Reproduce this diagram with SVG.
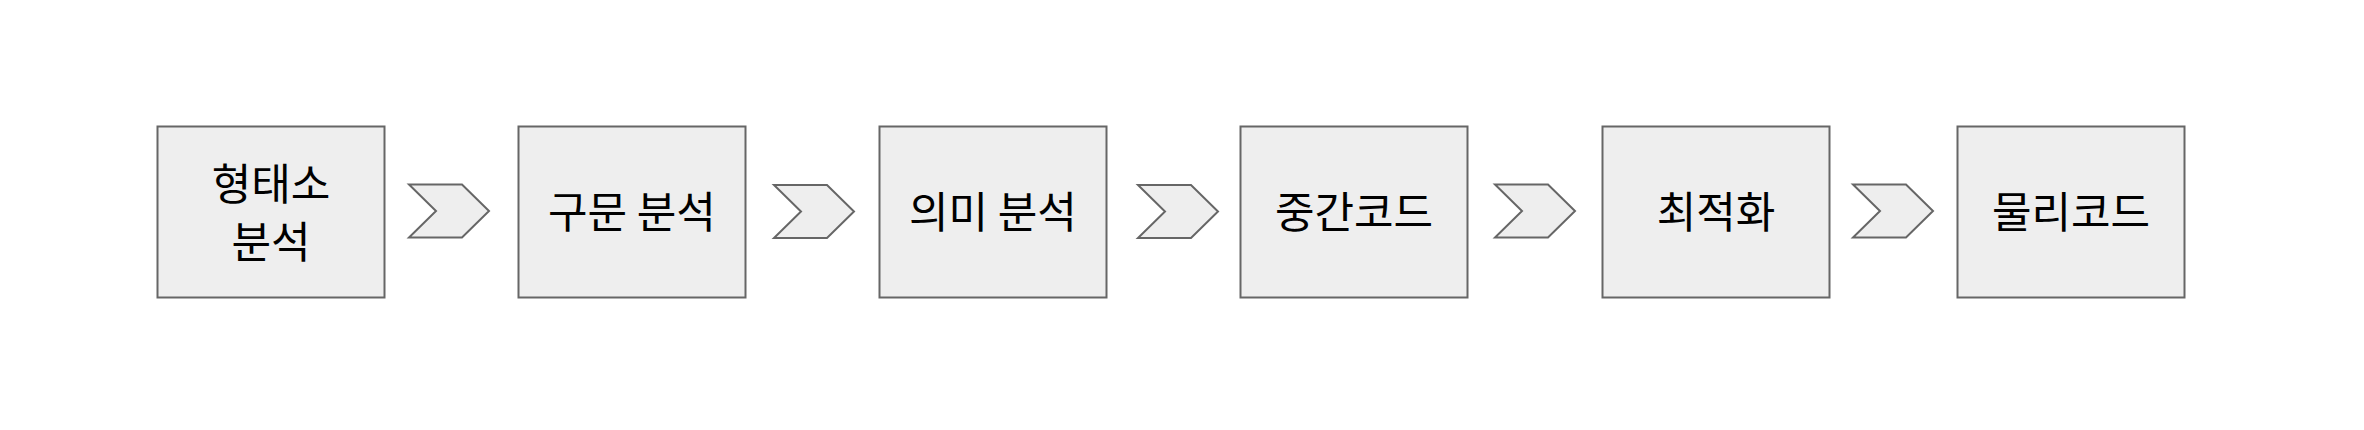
<svg xmlns="http://www.w3.org/2000/svg" width="2364" height="430" viewBox="0 0 2364 430">
<style>
.box{fill:#eeeeee;stroke:#666666;stroke-width:2}
.chev{fill:#eeeeee;stroke:#666666;stroke-width:2;stroke-linejoin:miter}
.lbl{font-family:"Noto Sans CJK KR","Noto Sans",sans-serif;font-size:43px;font-weight:400;fill:#000000;text-anchor:middle;dominant-baseline:central}
</style>
<rect width="2364" height="430" fill="#ffffff"/>
<g id="n1"><rect class="box" x="157.5" y="126.5" width="227" height="171"/><text class="lbl" x="271" y="181">형태소</text><text class="lbl" x="271" y="239">분석</text></g>
<g id="n2"><rect class="box" x="518.5" y="126.5" width="227" height="171"/><text class="lbl" x="632" y="209">구문 분석</text></g>
<g id="n3"><rect class="box" x="879.5" y="126.5" width="227" height="171"/><text class="lbl" x="993" y="209">의미 분석</text></g>
<g id="n4"><rect class="box" x="1240.5" y="126.5" width="227" height="171"/><text class="lbl" x="1354" y="209">중간코드</text></g>
<g id="n5"><rect class="box" x="1602.5" y="126.5" width="227" height="171"/><text class="lbl" x="1716" y="209">최적화</text></g>
<g id="n6"><rect class="box" x="1957.5" y="126.5" width="227" height="171"/><text class="lbl" x="2071" y="209">물리코드</text></g>
<g id="connectors">
<polygon class="chev" points="409,184.5 462,184.5 489,211 462,237.5 409,237.5 436,211"/>
<polygon class="chev" points="774,185 827,185 854,211.5 827,238 774,238 801,211.5"/>
<polygon class="chev" points="1138,185 1191,185 1218,211.5 1191,238 1138,238 1165,211.5"/>
<polygon class="chev" points="1495,184.5 1548,184.5 1575,211 1548,237.5 1495,237.5 1522,211"/>
<polygon class="chev" points="1853,184.5 1906,184.5 1933,211 1906,237.5 1853,237.5 1880,211"/>
</g>
</svg>
